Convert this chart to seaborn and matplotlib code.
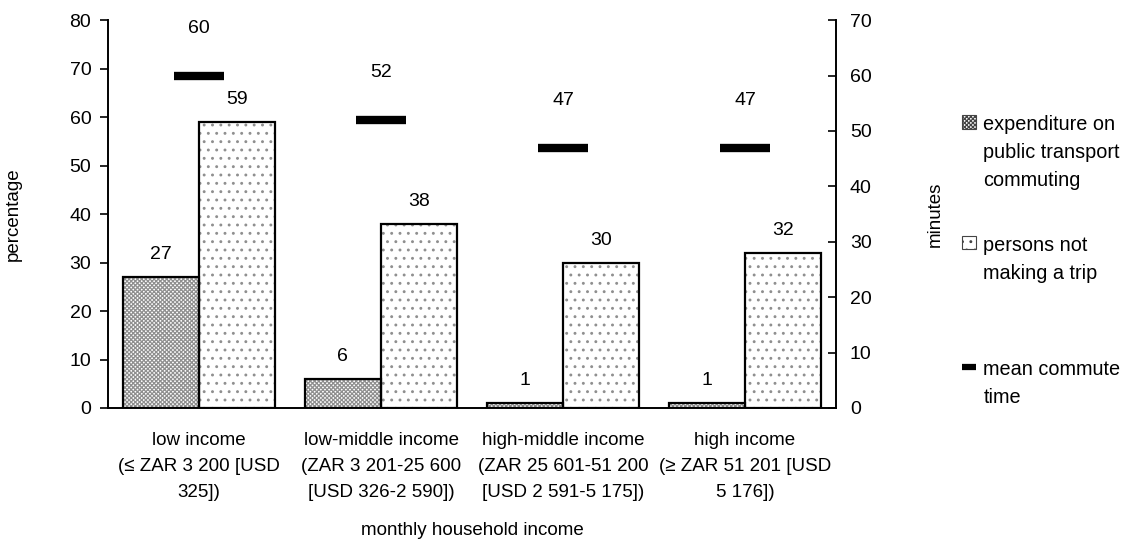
import numpy as np
import pandas as pd
import matplotlib
matplotlib.use("Agg")
import matplotlib.pyplot as plt
from matplotlib.patches import Rectangle, Patch
from matplotlib.lines import Line2D
import seaborn as sns

# Income groups and the two bar series (percentages) plus commute time (minutes)
groups = ["low income", "low-middle income", "high-middle income", "high income"]
group_labels = [
    "low income\n(\u2264 ZAR 3 200 [USD\n325])",
    "low-middle income\n(ZAR 3 201-25 600\n[USD 326-2 590])",
    "high-middle income\n(ZAR 25 601-51 200\n[USD 2 591-5 175])",
    "high income\n(\u2265 ZAR 51 201 [USD\n5 176])",
]
expenditure_pct = [27, 6, 1, 1]
no_trip_pct = [59, 38, 30, 32]
commute_minutes = [60, 52, 47, 47]

series_names = ["expenditure on\npublic transport\ncommuting", "persons not\nmaking a trip"]
legend_line_name = "mean commute\ntime"
hatches = ["xxxxxxxx", ".."]

sns.set_theme(style="white")
plt.rcParams["font.family"] = ["Liberation Sans Narrow", "Liberation Sans", "DejaVu Sans"]
plt.rcParams["font.size"] = 13
plt.rcParams["hatch.linewidth"] = 0.9
plt.rcParams["text.color"] = "black"
plt.rcParams["axes.labelcolor"] = "black"
plt.rcParams["xtick.color"] = "black"
plt.rcParams["ytick.color"] = "black"

df = pd.DataFrame({
    "group": groups * 2,
    "series": [series_names[0]] * 4 + [series_names[1]] * 4,
    "value": expenditure_pct + no_trip_pct,
})

fig = plt.figure(figsize=(11.23, 5.44), dpi=100)
ax = fig.add_axes([0.0962, 0.25, 0.6482, 0.713])

sns.barplot(data=df, x="group", y="value", hue="series", order=groups,
            hue_order=series_names, palette=["white", "white"],
            edgecolor="#8f8f8f", linewidth=0, width=0.84, gap=0,
            legend=False, ax=ax)

# hatch the fills in grey, then trace each bar with a black outline
for container, hatch in zip(ax.containers, hatches):
    for bar in container:
        bar.set_hatch(hatch)
        bb = bar.get_bbox()
        ax.add_patch(Rectangle((bb.x0, bb.y0), bb.width, bb.height, fill=False,
                               edgecolor="black", linewidth=1.6, zorder=3))
    ax.bar_label(container, padding=10, fontsize=14)

ax.set_ylim(0, 80)
ax.set_yticks(np.arange(0, 81, 10))
ax.set_xlim(-0.5, len(groups) - 0.5)
ax.set_xticks(np.arange(len(groups) + 1) - 0.5)
ax.set_xticklabels([])
ax.set_xticks(np.arange(len(groups)), minor=True)
ax.set_xticklabels(group_labels, minor=True, fontsize=13.5, linespacing=1.7)
ax.tick_params(axis="x", which="major", direction="out", length=6, width=1.2)
ax.tick_params(axis="x", which="minor", length=0, pad=17)
ax.tick_params(axis="y", direction="out", length=6, width=1.2, labelsize=14, pad=6)
ax.set_xlabel("monthly household income", fontsize=13.5, labelpad=15)
ax.set_ylabel("percentage", fontsize=13.5, labelpad=34)
for side in ["left", "bottom"]:
    ax.spines[side].set_color("black")
    ax.spines[side].set_linewidth(1.4)
ax.spines["top"].set_visible(False)
ax.spines["right"].set_visible(False)

# mean commute time on the secondary axis
ax2 = ax.twinx()
ax2.set_ylim(0, 70)
ax2.set_yticks(np.arange(0, 71, 10))
sns.scatterplot(x=np.arange(len(groups)), y=commute_minutes, marker="_", s=1300,
                linewidth=6, color="black", ax=ax2, legend=False, zorder=5)
for xi, m in zip(np.arange(len(groups)), commute_minutes):
    ax2.annotate(f"{m}", (xi, m), xytext=(0, 34), textcoords="offset points",
                 ha="center", va="center", fontsize=14)
ax2.set_xlim(-0.5, len(groups) - 0.5)
ax2.tick_params(axis="y", direction="in", length=6, width=1.2, labelsize=14, pad=10)
ax2.set_ylabel("minutes", fontsize=13.5, labelpad=40)
ax2.spines["right"].set_color("black")
ax2.spines["right"].set_linewidth(1.4)
for side in ["top", "left", "bottom"]:
    ax2.spines[side].set_visible(False)
ax2.grid(False)
ax.grid(False)

# one key per entry, stacked down the right margin
handles = [
    Patch(facecolor="white", edgecolor="#444444", hatch=hatches[0], linewidth=0.8),
    Patch(facecolor="white", edgecolor="#444444", hatch=hatches[1], linewidth=0.8),
    Line2D([0], [0], color="black", linewidth=4.5, solid_capstyle="butt"),
]
labels = series_names + [legend_line_name]
entry_tops = [0.789, 0.567, 0.339]
for handle, label, top in zip(handles, labels, entry_tops):
    leg = fig.legend([handle], [label], loc="upper left", bbox_to_anchor=(0.857, top),
                     frameon=False, fontsize=14.3, borderpad=0, borderaxespad=0,
                     handlelength=0.7, handleheight=0.7, handletextpad=0.35)
    for txt in leg.get_texts():
        txt.set_linespacing(1.6)
    for column in leg._legend_handle_box.get_children():
        for row in column.get_children():
            row.align = "top"

fig.savefig("out.png", dpi=100)
